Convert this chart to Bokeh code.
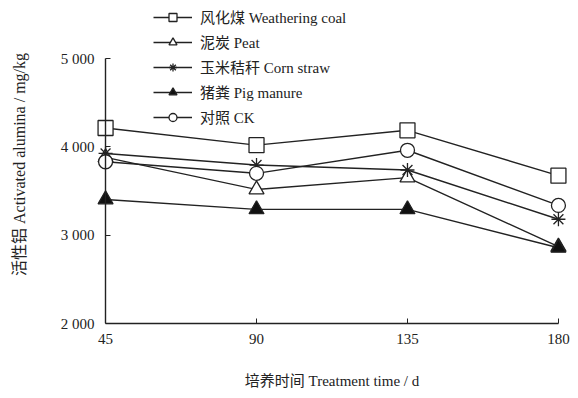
from bokeh.plotting import figure
from bokeh.models import Legend, LegendItem, Range1d, FixedTicker, LinearAxis
from bokeh.embed import file_html
from bokeh.resources import INLINE

days = [45, 90, 135, 180]
weathering_coal = [4213, 4019, 4187, 3674]
peat = [3880, 3517, 3652, 2870]
corn_straw = [3925, 3794, 3738, 3180]
pig_manure = [3404, 3292, 3292, 2857]
ck = [3831, 3700, 3961, 3337]
y_ticks = [2000, 3000, 4000, 5000]
y_tick_labels = ["2 000", "3 000", "4 000", "5 000"]

labels = ["风化煤 Weathering coal", "泥炭 Peat", "玉米秸秆 Corn straw", "猪粪 Pig manure", "对照 CK"]
series = [weathering_coal, peat, corn_straw, pig_manure, ck]
markers = ["square", "triangle", "asterisk", "triangle", "circle"]
fills = ["white", "white", "white", "#111111", "white"]
sizes = [15, 15, 14, 15, 14]

FONT = "Liberation Serif, Noto Sans CJK SC"
INK = "#222222"

p = figure(width=578, height=398, output_backend="svg", toolbar_location=None,
           x_range=Range1d(42, 183), y_range=Range1d(2000, 5600),
           min_border_left=95, min_border_right=10, min_border_top=5, min_border_bottom=75)
p.outline_line_color = None
p.grid.visible = False
p.background_fill_color = "white"
p.border_fill_color = "white"

items = []
for lab, ys, m, f, s in zip(labels, series, markers, fills, sizes):
    r1 = p.line(days, ys, line_color=INK, line_width=1.4)
    r2 = p.scatter(days, ys, marker=m, size=s, line_color=INK, fill_color=f, line_width=1.3)
    items.append(LegendItem(label=lab, renderers=[r1, r2]))

legend = Legend(items=items, location=(58, 196), orientation="vertical",
                glyph_width=39, glyph_height=20, spacing=4, label_standoff=8,
                padding=0, margin=0, border_line_color=None, background_fill_alpha=0,
                label_text_font=FONT, label_text_font_size="15px", label_text_color=INK)
p.add_layout(legend)

# x axis
xa = p.xaxis[0]
xa.ticker = FixedTicker(ticks=days)
xa.bounds = (45, 180)
xa.axis_label = "培养时间 Treatment time / d"
xa.major_tick_in = 5
xa.major_tick_out = 0
xa.minor_tick_in = 0
xa.minor_tick_out = 0
xa.axis_line_color = INK
xa.axis_line_width = 1.4
xa.major_tick_line_color = INK
xa.major_label_text_font = FONT
xa.major_label_text_font_size = "15px"
xa.major_label_text_color = INK
xa.major_label_standoff = 10
xa.axis_label_text_font = FONT
xa.axis_label_text_font_size = "15px"
xa.axis_label_text_font_style = "normal"
xa.axis_label_text_color = INK
xa.axis_label_standoff = 26

# y axis labels (at frame edge)
ya = p.yaxis[0]
ya.ticker = FixedTicker(ticks=y_ticks)
ya.major_label_overrides = dict(zip(y_ticks, y_tick_labels))
ya.axis_label = "活性铝 Activated alumina / mg/kg"
ya.axis_line_color = None
ya.major_tick_line_color = None
ya.minor_tick_line_color = None
ya.major_tick_in = 0
ya.major_tick_out = 0
ya.minor_tick_in = 0
ya.minor_tick_out = 0
ya.major_label_text_font = FONT
ya.major_label_text_font_size = "15px"
ya.major_label_text_color = INK
ya.major_label_standoff = 1
ya.axis_label_text_font = FONT
ya.axis_label_text_font_size = "16px"
ya.axis_label_text_font_style = "normal"
ya.axis_label_text_color = INK
ya.axis_label_standoff = 30

# y axis line and inward ticks at x = 45
ya2 = LinearAxis(fixed_location=45, ticker=FixedTicker(ticks=y_ticks), bounds=(2000, 5000))
ya2.axis_line_color = INK
ya2.axis_line_width = 1.4
ya2.major_tick_line_color = INK
ya2.major_tick_in = 5
ya2.major_tick_out = 0
ya2.minor_tick_in = 0
ya2.minor_tick_out = 0
ya2.major_label_text_color = None
ya2.major_label_text_font_size = "1px"
ya2.major_label_standoff = 0
p.add_layout(ya2, "left")

open("out.html", "w").write(file_html(p, INLINE))
